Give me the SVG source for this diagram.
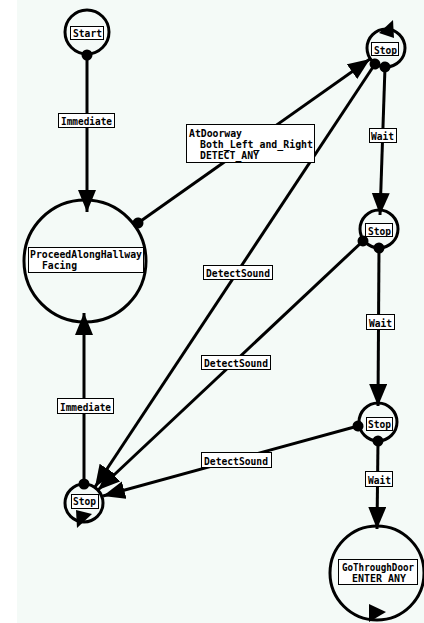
<svg xmlns="http://www.w3.org/2000/svg" width="424" height="623" viewBox="0 0 424 623">
  <style>
    .ring { fill: none; stroke: #000; stroke-width: 3; }
    .box { fill: #fff; stroke: #000; stroke-width: 1; }
    .lbl { font-family: "DejaVu Sans Mono", "Liberation Mono", monospace; font-weight: bold; font-size: 11px; fill: #000; }
    .edge { fill: none; stroke: #000; stroke-width: 3; marker-start: url(#dot); marker-end: url(#arrow); }
    .tri { fill: #000; }
  </style>
  <defs>
    <marker id="arrow" markerUnits="userSpaceOnUse" markerWidth="24" markerHeight="20" refX="22" refY="9" orient="auto">
      <path d="M0,0 L22,9 L0,18 Z" fill="#000"/>
    </marker>
    <marker id="dot" markerUnits="userSpaceOnUse" markerWidth="14" markerHeight="14" refX="7" refY="7" orient="auto">
      <circle cx="7" cy="7" r="5.5" fill="#000"/>
    </marker>
  </defs>

  <!-- canvas -->
  <rect x="0" y="0" width="424" height="623" fill="#ffffff"/>
  <rect x="17" y="0" width="407" height="623" fill="#f4faf7"/>

  <!-- states -->
  <g id="start">
    <circle class="ring" cx="87" cy="32" r="22"/>
    <rect class="box" x="70.5" y="26.5" width="33" height="13"/>
    <text class="lbl" x="73" y="37" textLength="29" lengthAdjust="spacingAndGlyphs">Start</text>
  </g>

  <g id="proceed">
    <circle class="ring" cx="85" cy="261" r="61"/>
    <rect class="box" x="28.5" y="247.5" width="115" height="25"/>
    <text class="lbl"><tspan x="30" y="258" textLength="112" lengthAdjust="spacingAndGlyphs">ProceedAlongHallway</tspan><tspan x="42" y="269" textLength="35" lengthAdjust="spacingAndGlyphs">Facing</tspan></text>
  </g>

  <g id="stop-a">
    <circle class="ring" cx="386" cy="48" r="19"/>
    <rect class="box" x="371.5" y="42.5" width="27" height="13"/>
    <text class="lbl" x="374" y="54" textLength="23" lengthAdjust="spacingAndGlyphs">Stop</text>
    <polygon class="tri" points="393,20 379,33 394,38"/>
  </g>

  <g id="stop-b">
    <circle class="ring" cx="379" cy="229" r="19"/>
    <rect class="box" x="365.5" y="223.5" width="27" height="13"/>
    <text class="lbl" x="368" y="235" textLength="23" lengthAdjust="spacingAndGlyphs">Stop</text>
  </g>

  <g id="stop-c">
    <circle class="ring" cx="378" cy="422" r="19"/>
    <rect class="box" x="366.5" y="417.5" width="26" height="13"/>
    <text class="lbl" x="368" y="428" textLength="23" lengthAdjust="spacingAndGlyphs">Stop</text>
  </g>

  <g id="stop-d">
    <circle class="ring" cx="84" cy="503" r="19"/>
    <rect class="box" x="71.5" y="494.5" width="27" height="14"/>
    <text class="lbl" x="73" y="505" textLength="23" lengthAdjust="spacingAndGlyphs">Stop</text>
    <polygon class="tri" points="76,510 92,514 77,528"/>
  </g>

  <g id="go-through-door">
    <circle class="ring" cx="377" cy="573" r="47"/>
    <rect class="box" x="338.5" y="559.5" width="79" height="25"/>
    <text class="lbl"><tspan x="342" y="571" textLength="72" lengthAdjust="spacingAndGlyphs">GoThroughDoor</tspan><tspan x="352" y="582" textLength="54" lengthAdjust="spacingAndGlyphs">ENTER_ANY</tspan></text>
    <polygon class="tri" points="369,604 386,612 369,622"/>
  </g>

  <!-- transitions -->
  <g id="connectors">
    <line class="edge" x1="87" y1="55" x2="87" y2="212"/>
    <line class="edge" x1="138" y1="223" x2="370" y2="59"/>
    <line class="edge" x1="385" y1="67" x2="380" y2="215"/>
    <line class="edge" x1="379" y1="248" x2="378" y2="406"/>
    <line class="edge" x1="378" y1="441" x2="377" y2="529"/>
    <line class="edge" x1="84" y1="484" x2="84" y2="313"/>
    <line class="edge" x1="375" y1="64" x2="95" y2="487"/>
    <line class="edge" x1="363" y1="241" x2="98" y2="490"/>
    <line class="edge" x1="358" y1="426" x2="103" y2="496"/>

    <rect class="box" x="58.5" y="113.5" width="56" height="14"/>
    <text class="lbl" x="61" y="125" textLength="51" lengthAdjust="spacingAndGlyphs">Immediate</text>

    <rect class="box" x="186.5" y="124.5" width="128" height="38"/>
    <text class="lbl"><tspan x="189" y="137" textLength="53" lengthAdjust="spacingAndGlyphs">AtDoorway</tspan><tspan x="200" y="148" textLength="113" lengthAdjust="spacingAndGlyphs">Both_Left_and_Right</tspan><tspan x="200" y="159" textLength="59" lengthAdjust="spacingAndGlyphs">DETECT_ANY</tspan></text>

    <rect class="box" x="369.5" y="128.5" width="27" height="14"/>
    <text class="lbl" x="371" y="140" textLength="23" lengthAdjust="spacingAndGlyphs">Wait</text>

    <rect class="box" x="203.5" y="265.5" width="69" height="14"/>
    <text class="lbl" x="206" y="277" textLength="64" lengthAdjust="spacingAndGlyphs">DetectSound</text>

    <rect class="box" x="366.5" y="314.5" width="28" height="15"/>
    <text class="lbl" x="369" y="327" textLength="23" lengthAdjust="spacingAndGlyphs">Wait</text>

    <rect class="box" x="201.5" y="355.5" width="69" height="14"/>
    <text class="lbl" x="204" y="367" textLength="64" lengthAdjust="spacingAndGlyphs">DetectSound</text>

    <rect class="box" x="57.5" y="398.5" width="56" height="15"/>
    <text class="lbl" x="60" y="411" textLength="51" lengthAdjust="spacingAndGlyphs">Immediate</text>

    <rect class="box" x="201.5" y="452.5" width="70" height="15"/>
    <text class="lbl" x="204" y="465" textLength="64" lengthAdjust="spacingAndGlyphs">DetectSound</text>

    <rect class="box" x="365.5" y="471.5" width="27" height="15"/>
    <text class="lbl" x="368" y="484" textLength="23" lengthAdjust="spacingAndGlyphs">Wait</text>
  </g>
</svg>
